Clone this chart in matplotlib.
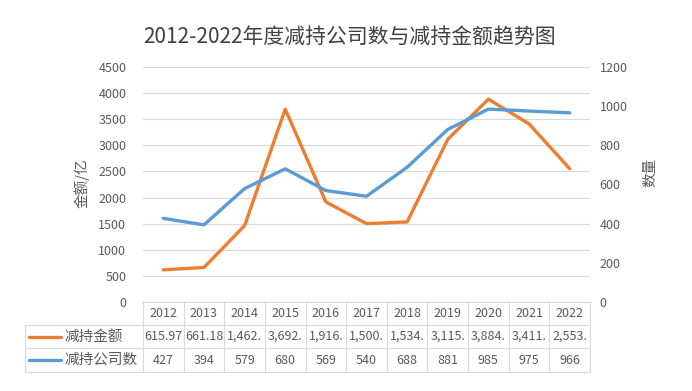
import matplotlib
matplotlib.use("Agg")
import matplotlib.pyplot as plt
from matplotlib.transforms import blended_transform_factory
from matplotlib.lines import Line2D

plt.rcParams['font.family'] = ['Noto Sans CJK SC', 'DejaVu Sans']

years = ['2012', '2013', '2014', '2015', '2016', '2017', '2018', '2019', '2020', '2021', '2022']
amount = [615.97, 661.18, 1462.0, 3692.0, 1916.0, 1500.0, 1534.0, 3115.0, 3884.0, 3411.0, 2553.0]
count = [427, 394, 579, 680, 569, 540, 688, 881, 985, 975, 966]
amount_name = '减持金额'
count_name = '减持公司数'

orange = '#ED7D31'
blue = '#5B9BD5'
txt = '#595959'
grid = '#D9D9D9'

W, H = 692, 391
fig = plt.figure(figsize=(W / 100, H / 100), dpi=100)

def fx(x):
    return x / W

def fy(y):
    return 1 - y / H

ax = fig.add_axes([fx(143), fy(302), fx(590) - fx(143), fy(67) - fy(302)])
ax2 = ax.twinx()
xs = list(range(len(years)))

ax.plot(xs, amount, color=orange, lw=2.4, solid_capstyle='round', zorder=3)
ax2.plot(xs, count, color=blue, lw=2.4, solid_capstyle='round', zorder=3)

ax.set_xlim(-0.5, len(years) - 0.5)
ax.set_ylim(0, 4500)
ax.set_yticks(range(0, 4501, 500))
ax2.set_ylim(0, 1200)
ax2.set_yticks(range(0, 1201, 200))
ax.set_xticks([])
ax.yaxis.grid(True, color=grid, lw=0.8)
ax.set_axisbelow(True)
for a in (ax, ax2):
    for s in a.spines.values():
        s.set_visible(False)
    a.tick_params(length=0, labelsize=9, colors=txt)
ax.tick_params(axis='y', pad=12)
ax2.tick_params(axis='y', pad=7)

fig.text(fx(82), fy(183), '金额/亿', rotation=90, ha='center', va='center', fontsize=10.5, color=txt)
fig.text(fx(650), fy(172), '数量', rotation=90, ha='center', va='center', fontsize=10.5, color=txt)
fig.text(fx(350), fy(38), '2012-2022年度减持公司数与减持金额趋势图', ha='center', va='center',
         fontsize=15, color='#404040')

# data table under the plot
tr = blended_transform_factory(ax.transData, fig.transFigure)
rows_y = [302, 325, 348, 372]
n = len(years)
line_kw = dict(color=grid, lw=0.8)
fig.add_artist(Line2D([fx(143), fx(590)], [fy(302), fy(302)], **line_kw))
for y in rows_y[1:]:
    fig.add_artist(Line2D([fx(25), fx(590)], [fy(y), fy(y)], **line_kw))
for i in range(n + 1):
    fig.add_artist(Line2D([i - 0.5, i - 0.5], [fy(302), fy(372)], transform=tr, **line_kw))
fig.add_artist(Line2D([fx(25), fx(25)], [fy(325), fy(372)], **line_kw))

amount_txt = [f'{v:,.2f}'[:6] for v in amount]
count_txt = [str(v) for v in count]
for i in xs:
    mid = [(rows_y[k] + rows_y[k + 1]) / 2 for k in range(3)]
    fig.text(i, fy(mid[0]), years[i], transform=tr, ha='center', va='center', fontsize=9, color=txt)
    fig.text(i, fy(mid[1]), amount_txt[i], transform=tr, ha='center', va='center', fontsize=9, color=txt)
    fig.text(i, fy(mid[2]), count_txt[i], transform=tr, ha='center', va='center', fontsize=9, color=txt)

for name, col, k in [(amount_name, orange, 1), (count_name, blue, 2)]:
    ym = fy((rows_y[k] + rows_y[k + 1]) / 2)
    fig.add_artist(Line2D([fx(29), fx(61)], [ym, ym], color=col, lw=2.4, solid_capstyle='round'))
    fig.text(fx(64), ym, name, ha='left', va='center', fontsize=10.5, color=txt)

fig.savefig('out.png', dpi=100)
